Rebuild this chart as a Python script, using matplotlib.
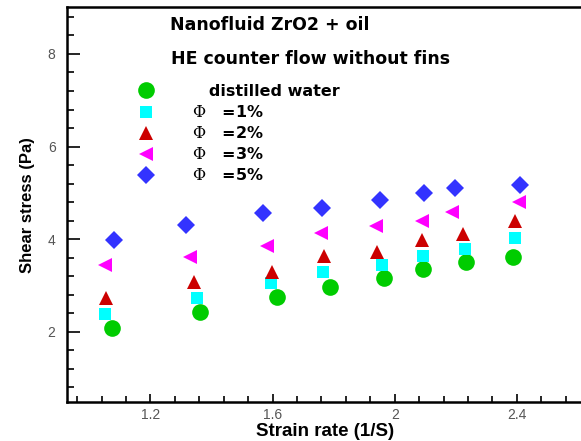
import matplotlib
matplotlib.use("Agg")
import matplotlib.pyplot as plt
from matplotlib.ticker import MultipleLocator, FixedLocator

# Shear stress vs strain rate for ZrO2 + oil nanofluid
water_x = [1.074, 1.361, 1.613, 1.787, 1.966, 2.093, 2.233, 2.386]
water_y = [2.09, 2.42, 2.74, 2.97, 3.17, 3.35, 3.51, 3.61]

phi1_x = [1.053, 1.353, 1.596, 1.766, 1.957, 2.092, 2.231, 2.394]
phi1_y = [2.38, 2.73, 3.06, 3.28, 3.45, 3.63, 3.79, 4.02]

phi2_x = [1.055, 1.342, 1.597, 1.768, 1.942, 2.089, 2.222, 2.394]
phi2_y = [2.73, 3.07, 3.30, 3.63, 3.73, 3.98, 4.12, 4.39]

phi3_x = [1.050, 1.329, 1.583, 1.758, 1.938, 2.089, 2.189, 2.407]
phi3_y = [3.44, 3.61, 3.85, 4.14, 4.28, 4.40, 4.58, 4.81]

phi5_x = [1.082, 1.317, 1.569, 1.761, 1.952, 2.095, 2.196, 2.411]
phi5_y = [3.98, 4.30, 4.56, 4.67, 4.84, 4.99, 5.11, 5.18]

labels = ["   distilled water", r"$\Phi$   =1%", r"$\Phi$   =2%",
          r"$\Phi$   =3%", r"$\Phi$   =5%"]
x_ticks = [1.2, 1.6, 2.0, 2.4]
x_tick_labels = ["1.2", "1.6", "2", "2.4"]
y_ticks = [2, 4, 6, 8]
y_tick_labels = ["2", "4", "6", "8"]

plt.rcParams["font.family"] = ["Liberation Sans", "DejaVu Sans"]
plt.rcParams["mathtext.fontset"] = "dejavuserif"

fig = plt.figure(figsize=(5.81, 4.41), dpi=100)
ax = fig.add_axes([0.1148, 0.0884, 0.8890, 0.8946])

series = [
    (water_x, water_y, "o", "#00cc00", 12),
    (phi1_x, phi1_y, "s", "#00ffff", 8),
    (phi2_x, phi2_y, "^", "#cc0000", 10),
    (phi3_x, phi3_y, "<", "#ff00ff", 10),
    (phi5_x, phi5_y, "D", "#3333ff", 9.5),
]
for (xs, ys, m, c, s), lab in zip(series, labels):
    ax.plot(xs, ys, linestyle="none", marker=m, color=c, markersize=s,
            markeredgewidth=0, label=lab)

ax.set_xlim(0.926, 2.617)
ax.set_ylim(0.482, 9.004)

ax.xaxis.set_major_locator(FixedLocator(x_ticks))
ax.set_xticklabels(x_tick_labels)
ax.xaxis.set_minor_locator(MultipleLocator(0.08))
ax.yaxis.set_major_locator(FixedLocator(y_ticks))
ax.set_yticklabels(y_tick_labels)
ax.yaxis.set_minor_locator(MultipleLocator(0.4))

ax.tick_params(axis="both", which="both", direction="in", width=1.2,
               colors="black", labelcolor="#555555", labelsize=10)
ax.tick_params(axis="y", which="major", length=9, pad=8)
ax.tick_params(axis="y", which="minor", length=5)
ax.tick_params(axis="x", which="major", length=6, pad=4)
ax.tick_params(axis="x", which="minor", length=4)
ax.tick_params(top=False, right=False, which="both")

for side in ("left", "bottom", "top"):
    ax.spines[side].set_linewidth(1.8)
ax.spines["right"].set_visible(False)

ax.set_xlabel("Strain rate (1/S)", fontsize=13.5, fontweight="bold", labelpad=1)
ax.set_ylabel("Shear stress (Pa)", fontsize=12, fontweight="bold", labelpad=9)

title_font = {"family": "DejaVu Sans", "weight": "bold", "size": 12.5}
fig.text(270 / 581, 1 - 25 / 441, "Nanofluid ZrO2 + oil", ha="center", va="center",
         fontdict=title_font)
fig.text(311 / 581, 1 - 59 / 441, "HE counter flow without fins", ha="center", va="center",
         fontdict=title_font)

leg = ax.legend(loc="upper left", bbox_to_anchor=(138 / 581, 1 - 84 / 441),
                bbox_transform=fig.transFigure, frameon=False,
                prop={"family": "DejaVu Sans", "weight": "bold", "size": 11.5},
                handlelength=1.0, handletextpad=2.4, labelspacing=0.32,
                borderpad=0, borderaxespad=0)

fig.savefig("out.png", dpi=100)
